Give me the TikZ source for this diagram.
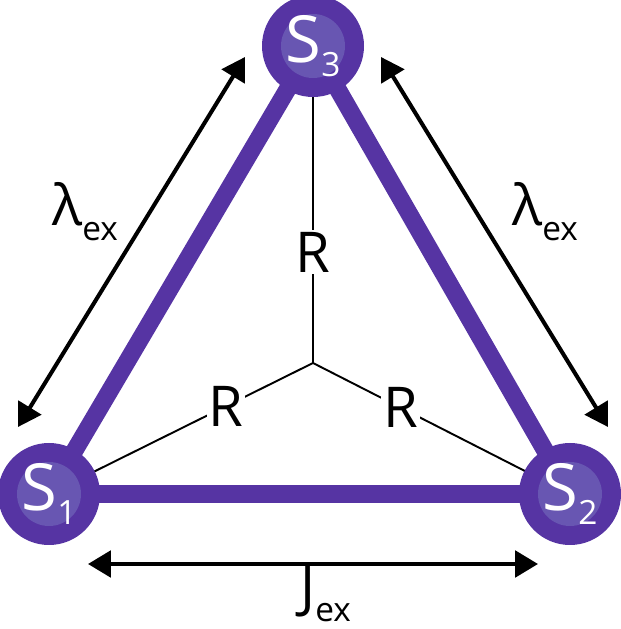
\documentclass[tikz,border=0pt]{standalone}
\usepackage{fontspec}
\setmainfont{Open Sans}
\usetikzlibrary{arrows.meta}
\definecolor{spinout}{RGB}{86,52,163}
\definecolor{spinin}{RGB}{104,86,178}
\newcommand{\lowsub}[1]{\raisebox{-8pt}{\fontsize{19}{19}\selectfont #1}}
\begin{document}
\begin{tikzpicture}[font=\fontsize{32}{36}\selectfont,
	spin/.style={circle, fill=spinout, inner sep=0pt, minimum size=2.04cm, text=white,
		font=\fontsize{37}{40}\selectfont,
		path picture={\fill[spinin] (path picture bounding box.center) circle (0.64);}},
	bond/.style={draw=spinout, line width=10pt},
	spoke/.style={draw, line width=1.1pt},
	dist/.style={{Triangle[length=13pt,width=15pt]}-{Triangle[length=13pt,width=15pt]}, line width=2.3pt}]
	\useasboundingbox (0,0) rectangle (12.42,12.58);
	% spins
	\coordinate (s1c) at (0.98,2.70);
	\coordinate (s2c) at (11.40,2.70);
	\coordinate (s3c) at (6.26,11.66);
	\coordinate (mid) at (6.26,5.32);
	% spokes from the centre
	\draw[spoke] (mid) -- (s3c) node[pos=0.35, fill=white, inner sep=1pt]{R};
	\draw[spoke] (mid) -- (s1c) node[pos=0.33, fill=white, inner sep=1pt]{R};
	\draw[spoke] (mid) -- (s2c) node[pos=0.34, fill=white, inner sep=1pt]{R};
	\draw[bond] (s1c) -- (s2c) -- (s3c) -- cycle;
	\node[spin] (s1) at (s1c) {S\lowsub{1}};
	\node[spin] (s2) at (s2c) {S\lowsub{2}};
	\node[spin] (s3) at (s3c) {S\lowsub{3}};
	% exchange arrows
	\coordinate (la) at (4.90,11.44);
	\coordinate (lb) at (0.36,4.04);
	\coordinate (ra) at (7.62,11.44);
	\coordinate (rb) at (12.16,4.04);
	\coordinate (ba) at (1.76,1.30);
	\coordinate (bb) at (10.76,1.30);
	\draw[dist] (la) -- (lb);
	\draw[dist] (ra) -- (rb);
	\draw[dist] (ba) -- (bb);
	\node[anchor=base west, inner sep=0pt] (lexl) at (1.04,8.06) {λ\lowsub{ex}};
	\node[anchor=base west, inner sep=0pt] (lexr) at (10.24,8.06) {λ\lowsub{ex}};
	\node[anchor=base west, inner sep=0pt] (jex) at (6.0,0.44) {J\lowsub{ex}};
\end{tikzpicture}
\end{document}
